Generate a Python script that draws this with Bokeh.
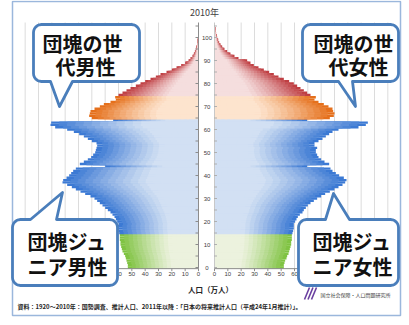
import numpy as np
from bokeh.plotting import figure
from bokeh.models import Range1d, ColumnDataSource
from bokeh.embed import file_html
from bokeh.resources import INLINE
from bokeh.core.properties import value

# ---------------- data (万人) ----------------
ages = list(range(0, 106))
male = [53, 53, 53.5, 54, 54.5, 55, 56, 57, 57.5, 58, 58.5, 58.5, 59, 59, 59,
        59.5, 60, 60.5, 60.5, 60,
        61, 62, 63, 64.5, 66,
        68, 70, 72, 74, 76,
        78, 81, 85, 88.5, 92,
        95, 98.5, 102, 101.5, 99,
        97, 95.5, 94, 92, 70,
        89, 86, 83, 80.5, 79,
        77.5, 77, 76.5, 76, 76.5,
        80, 83, 86, 89.5, 93.5,
        98.5, 107.5, 111, 110.5, 64,
        80, 82, 81.5, 81, 78,
        74, 71, 66, 62, 62.5,
        60, 57, 54, 51, 47,
        43.5, 40, 36, 32, 28.5,
        24, 20, 16.5, 13, 10,
        7.5, 6, 4.5, 3.5, 2.7,
        2, 1.5, 1.1, 0.8, 0.6,
        0.4, 0.3, 0.2, 0.15, 0.1, 0.05]
female = [52, 52, 52.5, 53, 54, 54.5, 55.5, 56, 56.5, 57, 57.5, 57.5, 58, 58, 58,
          58.5, 59, 59.5, 59.5, 59.5,
          60.5, 61.5, 62.5, 64, 66,
          67, 68.5, 70, 72, 74.5,
          77, 80, 83, 86.5, 90,
          93, 96, 98, 99, 97,
          93.5, 91, 88.5, 87, 69.5,
          86, 82.5, 80, 78, 77,
          76, 76, 77, 75, 75,
          78, 81, 83.5, 86, 88.5,
          93, 108, 113.5, 115, 69.5,
          86.5, 89.5, 90, 89, 88.5,
          85.5, 82, 78, 75, 76,
          72, 69.5, 67, 64.5, 62,
          59.5, 56, 52, 48, 44.5,
          41, 37, 33, 29.5, 27,
          24.5, 18, 15, 12, 9.5,
          7.5, 5.8, 4.5, 3.5, 2.8,
          2, 1.5, 1.2, 0.9, 0.6, 0.4]
band_starts = [0, 15, 65, 75]          # green, blue, orange, red
x_ticks = list(range(0, 131, 10))
age_ticks = list(range(0, 101, 10))
age_minor = list(range(0, 106, 5))

title_text = "2010年"
x_title = "人口（万人）"
source_note = "資料：1920～2010年：国勢調査、推計人口、2011年以降：「日本の将来推計人口（平成24年1月推計）」。"
org_name = "国立社会保障・人口問題研究所"
callout_texts = [["団塊の世", "代男性"], ["団塊の世", "代女性"],
                 ["団塊ジュ", "ニア男性"], ["団塊ジュ", "ニア女性"]]

# ---------------- styles / layout ----------------
W, H = 409, 325
PX = 40 / 30.0      # px per 万人
CX = 206.0          # pixel centre between panels
G = 6.0             # half gap (data units)
AGE0_PY = 267.0
PY_YEAR = 2.3

band_light = [(236, 242, 222), (210, 224, 243), (253, 228, 206), (245, 222, 222)]
band_dark = [(122, 192, 58), (52, 116, 210), (228, 106, 18), (188, 54, 58)]
CJK = value("Noto Sans CJK JP")
NUM = value("Liberation Sans")


def dx(px):
    return (px - CX) / PX


def dy(py):
    return (AGE0_PY - py) / PY_YEAR


p = figure(width=W, height=H, x_range=Range1d(dx(0), dx(W)), y_range=Range1d(dy(H), dy(0)),
           output_backend="svg", toolbar_location=None, min_border=0,
           x_axis_location=None, y_axis_location=None)
p.grid.grid_line_color = None
p.outline_line_color = None
p.background_fill_color = "white"
p.border_fill_color = "white"

# ---------------- outer frame ----------------
p.quad(left=[dx(12)], right=[dx(400)], top=[dy(1)], bottom=[dy(315)],
       fill_color=None, line_color="#9bb7dc", line_width=1.5)

# ---------------- grid lines ----------------
top_age = dy(22)
bot_age = -0.5
gx = [-G - t for t in x_ticks if t > 0] + [G + t for t in x_ticks if t > 0]
p.segment(x0=gx, x1=gx, y0=[bot_age] * len(gx), y1=[top_age] * len(gx),
          line_color="#dcdcdc", line_width=1)

# ---------------- gradient bars ----------------
K = 18


def band_of(a):
    b = 0
    for i, s in enumerate(band_starts):
        if a >= s:
            b = i
    return b


def shade(b, t):
    f = np.clip((t - 0.36) / 0.64, 0, 1) ** 1.2
    lo, hi = band_light[b], band_dark[b]
    c = [int(round(lo[k] + (hi[k] - lo[k]) * f)) for k in range(3)]
    return "#%02x%02x%02x" % tuple(c)


ys, ls, rs, cs = [], [], [], []
for j in range(K - 1, -1, -1):
    t = (j + 0.5) / K
    for a, vm, vf in zip(ages, male, female):
        b = band_of(a)
        col = shade(b, t)
        ys.append(a); ls.append(-G - vm * (j + 1) / K); rs.append(-G); cs.append(col)
        ys.append(a); ls.append(G); rs.append(G + vf * (j + 1) / K); cs.append(col)
src = ColumnDataSource(dict(y=ys, left=ls, right=rs, color=cs))
p.hbar(y="y", left="left", right="right", height=1.04, fill_color="color",
       line_color=None, source=src)

# ---------------- axes (drawn) ----------------
axis_col = "#8c8c8c"
p.segment(x0=[-G, G], x1=[-G, G], y0=[bot_age, bot_age], y1=[top_age, top_age],
          line_color=[axis_col, "#c8c8c8"], line_width=1)
# bottom axis lines
p.segment(x0=[-G, G], x1=[-G - 130, G + 130], y0=[bot_age, bot_age], y1=[bot_age, bot_age],
          line_color=axis_col, line_width=1)
# age ticks
tk_l0 = [-G - 3 / PX] * len(age_minor)
tk_l1 = [-G + 0.5 / PX] * len(age_minor)
p.segment(x0=tk_l0, x1=tk_l1, y0=age_minor, y1=age_minor, line_color=axis_col, line_width=1)
tk_r0 = [G - 0.5 / PX] * len(age_minor)
tk_r1 = [G + 2.5 / PX] * len(age_minor)
p.segment(x0=tk_r0, x1=tk_r1, y0=age_minor, y1=age_minor, line_color="#b0b0b0", line_width=1)
p.text(x=[dx(206.5)] * len(age_ticks), y=age_ticks, text=[str(a) for a in age_ticks],
       text_font=NUM, text_font_size="6px", text_color="#404040",
       text_align="center", text_baseline="middle")
# x ticks
xt_pos = [-G - t for t in x_ticks] + [G + t for t in x_ticks]
xt_lab = [str(t) for t in x_ticks] * 2
p.segment(x0=xt_pos, x1=xt_pos, y0=[bot_age] * len(xt_pos), y1=[bot_age - 2.5 / PY_YEAR] * len(xt_pos),
          line_color=axis_col, line_width=1)
p.text(x=xt_pos, y=[dy(273.5)] * len(xt_pos), text=xt_lab,
       text_font=NUM, text_font_size="6px", text_color="#404040",
       text_align="center", text_baseline="middle")

# ---------------- titles / notes ----------------
p.text(x=[dx(204)], y=[dy(12)], text=[title_text], text_font=CJK, text_font_size="9px",
       text_color="#404040", text_align="center", text_baseline="middle")
p.text(x=[dx(210)], y=[dy(289)], text=[x_title], text_font=CJK, text_font_size="7.5px",
       text_font_style="bold", text_color="#262626", text_align="center", text_baseline="middle")
p.text(x=[dx(17)], y=[dy(306)], text=[source_note], text_font=CJK, text_font_size="6px",
       text_font_style="bold", text_color="#262626", text_align="left", text_baseline="middle")
p.text(x=[dx(320)], y=[dy(294)], text=[org_name], text_font=CJK, text_font_size="5px",
       text_color="#404040", text_align="left", text_baseline="middle")
# logo strokes
p.multi_line(xs=[[dx(304), dx(309)], [dx(307.5), dx(312.5)], [dx(311), dx(316)]],
             ys=[[dy(299), dy(287)], [dy(299), dy(287)], [dy(299), dy(287)]],
             line_color="#6a3fa0", line_width=1.6)

# ---------------- callouts ----------------
callouts = [
    # l, t, r, b, tail_edge, base0, base1, tip
    (33, 24, 139, 81, "bottom", 50, 72, (59, 106)),
    (302, 24, 398, 81, "bottom", 338, 352, (355, 106)),
    (12, 219, 117, 285, "top", 30, 56, (62, 192)),
    (298, 219, 398, 285, "top", 325, 349, (333, 193)),
]
text_pos = [[(82, 43), (85, 66)], [(353, 43), (358, 66)],
            [(67, 241), (67, 266)], [(352, 241), (352, 266)]]


def arc(cx, cy, r, a0, a1, n=7):
    return [(cx + r * np.cos(np.radians(a)), cy + r * np.sin(np.radians(a)))
            for a in np.linspace(a0, a1, n)]


for (l, t, r, b, edge, b0, b1, tip), tp, lines in zip(callouts, text_pos, callout_texts):
    rad = 8
    pts = []
    pts += arc(l + rad, t + rad, rad, 180, 270)
    if edge == "top":
        pts += [(b0, t), tip, (b1, t)]
    pts += arc(r - rad, t + rad, rad, 270, 360)
    pts += arc(r - rad, b - rad, rad, 0, 90)
    if edge == "bottom":
        pts += [(b1, b), tip, (b0, b)]
    pts += arc(l + rad, b - rad, rad, 90, 180)
    p.patch(x=[dx(q[0]) for q in pts], y=[dy(q[1]) for q in pts],
            fill_color="white", line_color="#4a7ebb", line_width=2.8, line_join="round")
    p.text(x=[dx(q[0]) for q in tp], y=[dy(q[1]) for q in tp], text=lines,
           text_font=CJK, text_font_size="20px", text_font_style="bold", text_color="#111111",
           text_align="center", text_baseline="middle")

open("out.html", "w").write(file_html(p, INLINE))
